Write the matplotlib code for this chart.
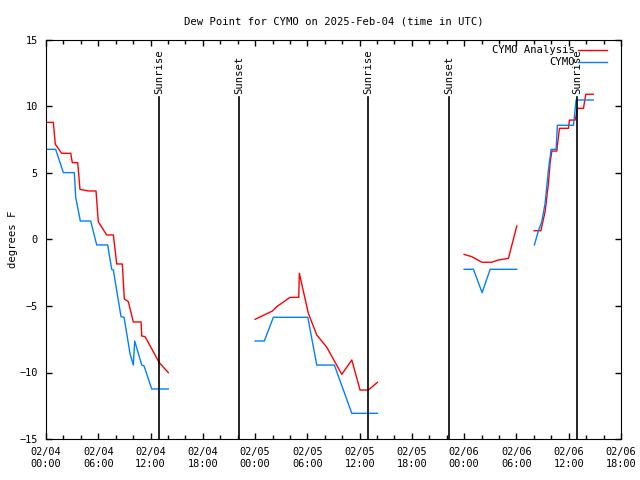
import matplotlib
matplotlib.use("Agg")
import matplotlib.pyplot as plt
import numpy as np

# hours since 2025-02-04 00:00 UTC, dew point in degrees F
analysis_hours = [
    [0.0, 0.84, 1.07, 1.80, 2.84, 3.02, 3.64, 3.90, 4.86, 5.74, 6.00, 6.97, 7.73, 8.12,
     8.76, 8.99, 9.45, 10.02, 10.91, 10.99, 11.37, 13.0, 14.04],
    [24.0, 25.98, 26.49, 28.01, 29.01, 29.08, 30.11, 31.08, 32.23, 33.95, 35.10, 36.05,
     37.0, 38.04],
    [47.99, 48.87, 50.02, 51.17, 51.93, 53.08, 54.04],
    [56.03, 56.8, 57.29, 57.67, 57.86, 58.06, 58.63, 58.93, 59.97, 60.08, 60.74, 61.0,
     61.69, 61.96, 62.83],
]
analysis_vals = [
    [8.81, 8.81, 7.16, 6.48, 6.48, 5.78, 5.78, 3.77, 3.65, 3.65, 1.34, 0.34, 0.34, -1.84,
     -1.84, -4.47, -4.67, -6.2, -6.2, -7.26, -7.3, -9.26, -10.01],
    [-6.0, -5.38, -5.05, -4.35, -4.35, -2.54, -5.55, -7.18, -8.1, -10.14, -9.06, -11.32,
     -11.32, -10.74],
    [-1.12, -1.29, -1.71, -1.71, -1.54, -1.42, 1.02],
    [0.66, 0.66, 2.1, 4.22, 5.73, 6.65, 6.65, 8.36, 8.36, 8.98, 8.98, 9.86, 9.86, 10.92,
     10.92],
]

obs_hours = [
    [0.0, 1.11, 1.99, 3.25, 3.41, 3.94, 5.13, 5.82, 7.08, 7.54, 7.73, 8.61, 8.96, 9.64,
     10.02, 10.18, 10.99, 11.25, 12.14, 14.04],
    [24.0, 25.06, 26.1, 30.05, 31.08, 33.1, 35.1, 38.04],
    [47.99, 49.06, 50.06, 50.98, 54.04],
    [56.06, 56.52, 56.91, 57.29, 57.67, 57.98, 58.55, 58.7, 60.54, 60.85, 62.83],
]
obs_vals = [
    [6.78, 6.78, 5.03, 5.03, 3.17, 1.39, 1.39, -0.41, -0.41, -2.24, -2.3, -5.8, -5.85,
     -8.56, -9.44, -7.63, -9.44, -9.5, -11.24, -11.24],
    [-7.63, -7.63, -5.85, -5.85, -9.44, -9.44, -13.07, -13.07],
    [-2.24, -2.24, -4.0, -2.24, -2.24],
    [-0.41, 0.66, 1.34, 2.72, 5.23, 6.78, 6.78, 8.59, 8.59, 10.49, 10.49],
]

sun_hours = [12.97, 22.16, 36.97, 46.27, 60.96]
sun_labels = ["Sunrise", "Sunset", "Sunrise", "Sunset", "Sunrise"]

tick_hours = [0, 6, 12, 18, 24, 30, 36, 42, 48, 54, 60, 66]
tick_labels = ["02/04\n00:00", "02/04\n06:00", "02/04\n12:00", "02/04\n18:00",
               "02/05\n00:00", "02/05\n06:00", "02/05\n12:00", "02/05\n18:00",
               "02/06\n00:00", "02/06\n06:00", "02/06\n12:00", "02/06\n18:00"]

plt.rcParams['font.family'] = ['DejaVu Sans Mono']
plt.rcParams['font.size'] = 7.4

fig = plt.figure(figsize=(6.4, 4.8), dpi=100)
ax = fig.add_axes([46 / 640, 1 - 439 / 480, 575 / 640, 399 / 480])

for i, (h, v) in enumerate(zip(analysis_hours, analysis_vals)):
    ax.plot(h, v, color='#ff0000', lw=1, label='CYMO Analysis' if i == 0 else None)
for i, (h, v) in enumerate(zip(obs_hours, obs_vals)):
    ax.plot(h, v, color='#0080ff', lw=1, label='CYMO' if i == 0 else None)

for h, lab in zip(sun_hours, sun_labels):
    ax.plot([h, h], [-15, 10.7], color='black', lw=1.2)
    ax.text(h, 10.95, lab, rotation=90, ha='center', va='bottom', fontsize=7.6)

ax.set_xlim(0, 66)
ax.set_ylim(-15, 15)
ax.set_xticks(tick_hours)
ax.set_xticklabels(tick_labels)
ax.set_xticks(np.arange(0, 67, 2), minor=True)
ax.set_yticks([-15, -10, -5, 0, 5, 10, 15])
ax.tick_params(which='major', direction='in', top=True, right=True, length=4, width=1)
ax.tick_params(which='minor', direction='in', top=True, right=True, length=3, width=1)
ax.tick_params(axis='x', pad=6)
ax.tick_params(axis='y', pad=6)

ax.set_ylabel('degrees F', labelpad=1, fontsize=7.6)
ax.set_title('Dew Point for CYMO on 2025-Feb-04 (time in UTC)', fontsize=7.6, pad=11)

ax.legend(loc='upper right', frameon=False, markerfirst=False, handlelength=2.8,
          borderaxespad=0.1, labelspacing=0.2, handletextpad=0.3,
          bbox_to_anchor=(0.985, 1.0), fontsize=7.6)

fig.savefig('out.png', dpi=100)
